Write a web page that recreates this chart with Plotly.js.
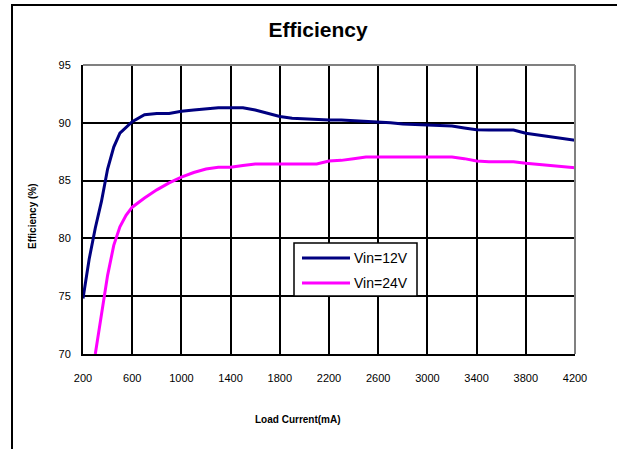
<!DOCTYPE html>
<html>
<head>
<meta charset="utf-8">
<script src="https://cdn.plot.ly/plotly-3.0.1.min.js"></script>
<style>
  html, body { margin: 0; padding: 0; background: #fff; overflow: hidden; }
  #wrap { position: relative; width: 617px; height: 449px; overflow: hidden; }
  #chart { width: 617px; height: 449px; }
  /* outer chart frame; only its left and top edges fall inside the page */
  #frame { position: absolute; left: 11px; top: 4px; width: 700px; height: 600px;
           border-left: 2px solid #000; border-top: 2px solid #000; pointer-events: none; }
</style>
</head>
<body>
<div id="wrap">
  <div id="chart"></div>
  <div id="frame"></div>
</div>
<script>
// Load current (mA) and measured efficiency (%) for each input voltage
const current12 = [200, 250, 300, 350, 400, 450, 500, 600, 700, 800, 900, 1000, 1100, 1200, 1300, 1400, 1500, 1600, 1700, 1800, 1900, 2000, 2100, 2200, 2300, 2400, 2500, 2600, 2700, 2800, 2900, 3000, 3100, 3200, 3300, 3400, 3500, 3600, 3700, 3800, 3900, 4000, 4100, 4200];
const eff12 = [74.8, 78.2, 80.9, 83.2, 86.0, 87.9, 89.1, 90.1, 90.7, 90.8, 90.8, 91.0, 91.1, 91.2, 91.3, 91.3, 91.3, 91.1, 90.8, 90.55, 90.4, 90.35, 90.25, 90.25, 90.25, 90.2, 90.1, 90.1, 90.0, 89.9, 89.85, 89.8, 89.72, 89.72, 89.55, 89.4, 89.38, 89.38, 89.38, 89.1, 88.95, 88.8, 88.65, 88.5];

const current24 = [300, 350, 400, 450, 500, 550, 600, 700, 800, 900, 1000, 1100, 1200, 1300, 1400, 1500, 1600, 1700, 1800, 1900, 2000, 2100, 2200, 2300, 2400, 2500, 2600, 2700, 2800, 2900, 3000, 3100, 3200, 3300, 3400, 3500, 3600, 3700, 3800, 3900, 4000, 4100, 4200];
const eff24 = [70.0, 73.5, 76.8, 79.4, 81.0, 82.0, 82.7, 83.5, 84.2, 84.8, 85.3, 85.7, 86.0, 86.15, 86.15, 86.3, 86.44, 86.44, 86.44, 86.44, 86.44, 86.44, 86.7, 86.75, 86.9, 87.05, 87.05, 87.05, 87.05, 87.05, 87.05, 87.05, 87.05, 86.9, 86.7, 86.64, 86.64, 86.64, 86.5, 86.4, 86.3, 86.2, 86.1];

const seriesNames = ['Vin=12V', 'Vin=24V'];
const seriesColors = ['#000080', '#FF00FF'];

const xTickVals = [200, 600, 1000, 1400, 1800, 2200, 2600, 3000, 3400, 3800, 4200];
const yTickVals = [70, 75, 80, 85, 90, 95];

const FONT = 'Arial, "Liberation Sans", sans-serif';

// Plot area in pixels
const W = 617, H = 449;
const L = 83, R = 575, T = 65, B = 354;
const px = x => (x - L) / (R - L);
const py = y => (B - y) / (B - T);

const traces = [
  { x: current12, y: eff12, name: seriesNames[0], mode: 'lines',
    line: { color: seriesColors[0], width: 3 }, showlegend: false, cliponaxis: true },
  { x: current24, y: eff24, name: seriesNames[1], mode: 'lines',
    line: { color: seriesColors[1], width: 3 }, showlegend: false, cliponaxis: true }
];

// Hand-built legend box
const legendBox = { x0: 294, x1: 417, y0: 243, y1: 296 };
const legendRows = [258, 283];

const shapes = [
  // grey top and right edges of the plot area
  { type: 'line', xref: 'paper', yref: 'paper', x0: 0, x1: 1, y0: 1, y1: 1,
    line: { color: '#808080', width: 2 }, layer: 'above' },
  { type: 'line', xref: 'paper', yref: 'paper', x0: 1, x1: 1, y0: 0, y1: 1,
    line: { color: '#808080', width: 2 }, layer: 'above' },
  // legend frame
  { type: 'rect', xref: 'paper', yref: 'paper',
    x0: px(legendBox.x0), x1: px(legendBox.x1), y0: py(legendBox.y1), y1: py(legendBox.y0),
    line: { color: '#000', width: 1.5 }, fillcolor: '#fff', layer: 'above' }
];

const annotations = [
  { text: '<b>Load Current(mA)</b>', xref: 'paper', yref: 'paper',
    x: px(298), y: py(419), xanchor: 'center', yanchor: 'middle', showarrow: false,
    font: { family: FONT, size: 10, color: '#000' } },
  { text: '<b>Efficiency (%)</b>', xref: 'paper', yref: 'paper',
    x: px(32), y: py(216), xanchor: 'center', yanchor: 'middle', showarrow: false,
    textangle: -90, font: { family: FONT, size: 10, color: '#000' } }
];

seriesNames.forEach((name, i) => {
  shapes.push({ type: 'line', xref: 'paper', yref: 'paper',
    x0: px(302), x1: px(350), y0: py(legendRows[i]), y1: py(legendRows[i]),
    line: { color: seriesColors[i], width: 3 }, layer: 'above' });
  annotations.push({ text: name, xref: 'paper', yref: 'paper',
    x: px(352), y: py(legendRows[i]), xanchor: 'left', yanchor: 'middle', showarrow: false,
    font: { family: FONT, size: 14, color: '#000' } });
});

const layout = {
  width: W, height: H,
  margin: { l: L, r: W - R, t: T, b: H - B, pad: 0 },
  paper_bgcolor: '#fff', plot_bgcolor: '#fff',
  font: { family: FONT, color: '#000', size: 11 },
  title: { text: '<b>Efficiency</b>', xref: 'container', yref: 'container',
    x: 318 / W, y: 1 - 30 / H, xanchor: 'center', yanchor: 'middle',
    font: { family: FONT, size: 21, color: '#000' } },
  xaxis: {
    range: [200, 4200], tickvals: xTickVals, ticktext: xTickVals.map(String),
    showgrid: true, gridcolor: '#000', gridwidth: 2, zeroline: false,
    showline: true, linecolor: '#000', linewidth: 2,
    ticks: 'outside', ticklen: 13, tickcolor: 'rgba(0,0,0,0)',
    tickfont: { family: FONT, size: 11, color: '#000' }, fixedrange: true
  },
  yaxis: {
    range: [70, 95], tickvals: yTickVals, ticktext: yTickVals.map(String),
    showgrid: true, gridcolor: '#000', gridwidth: 2, zeroline: false,
    showline: true, linecolor: '#000', linewidth: 2,
    ticks: 'outside', ticklen: 8, tickcolor: 'rgba(0,0,0,0)',
    tickfont: { family: FONT, size: 11, color: '#000' }, fixedrange: true
  },
  shapes: shapes,
  annotations: annotations,
  showlegend: false
};

Plotly.newPlot('chart', traces, layout, { displayModeBar: false, staticPlot: true });
</script>
</body>
</html>
